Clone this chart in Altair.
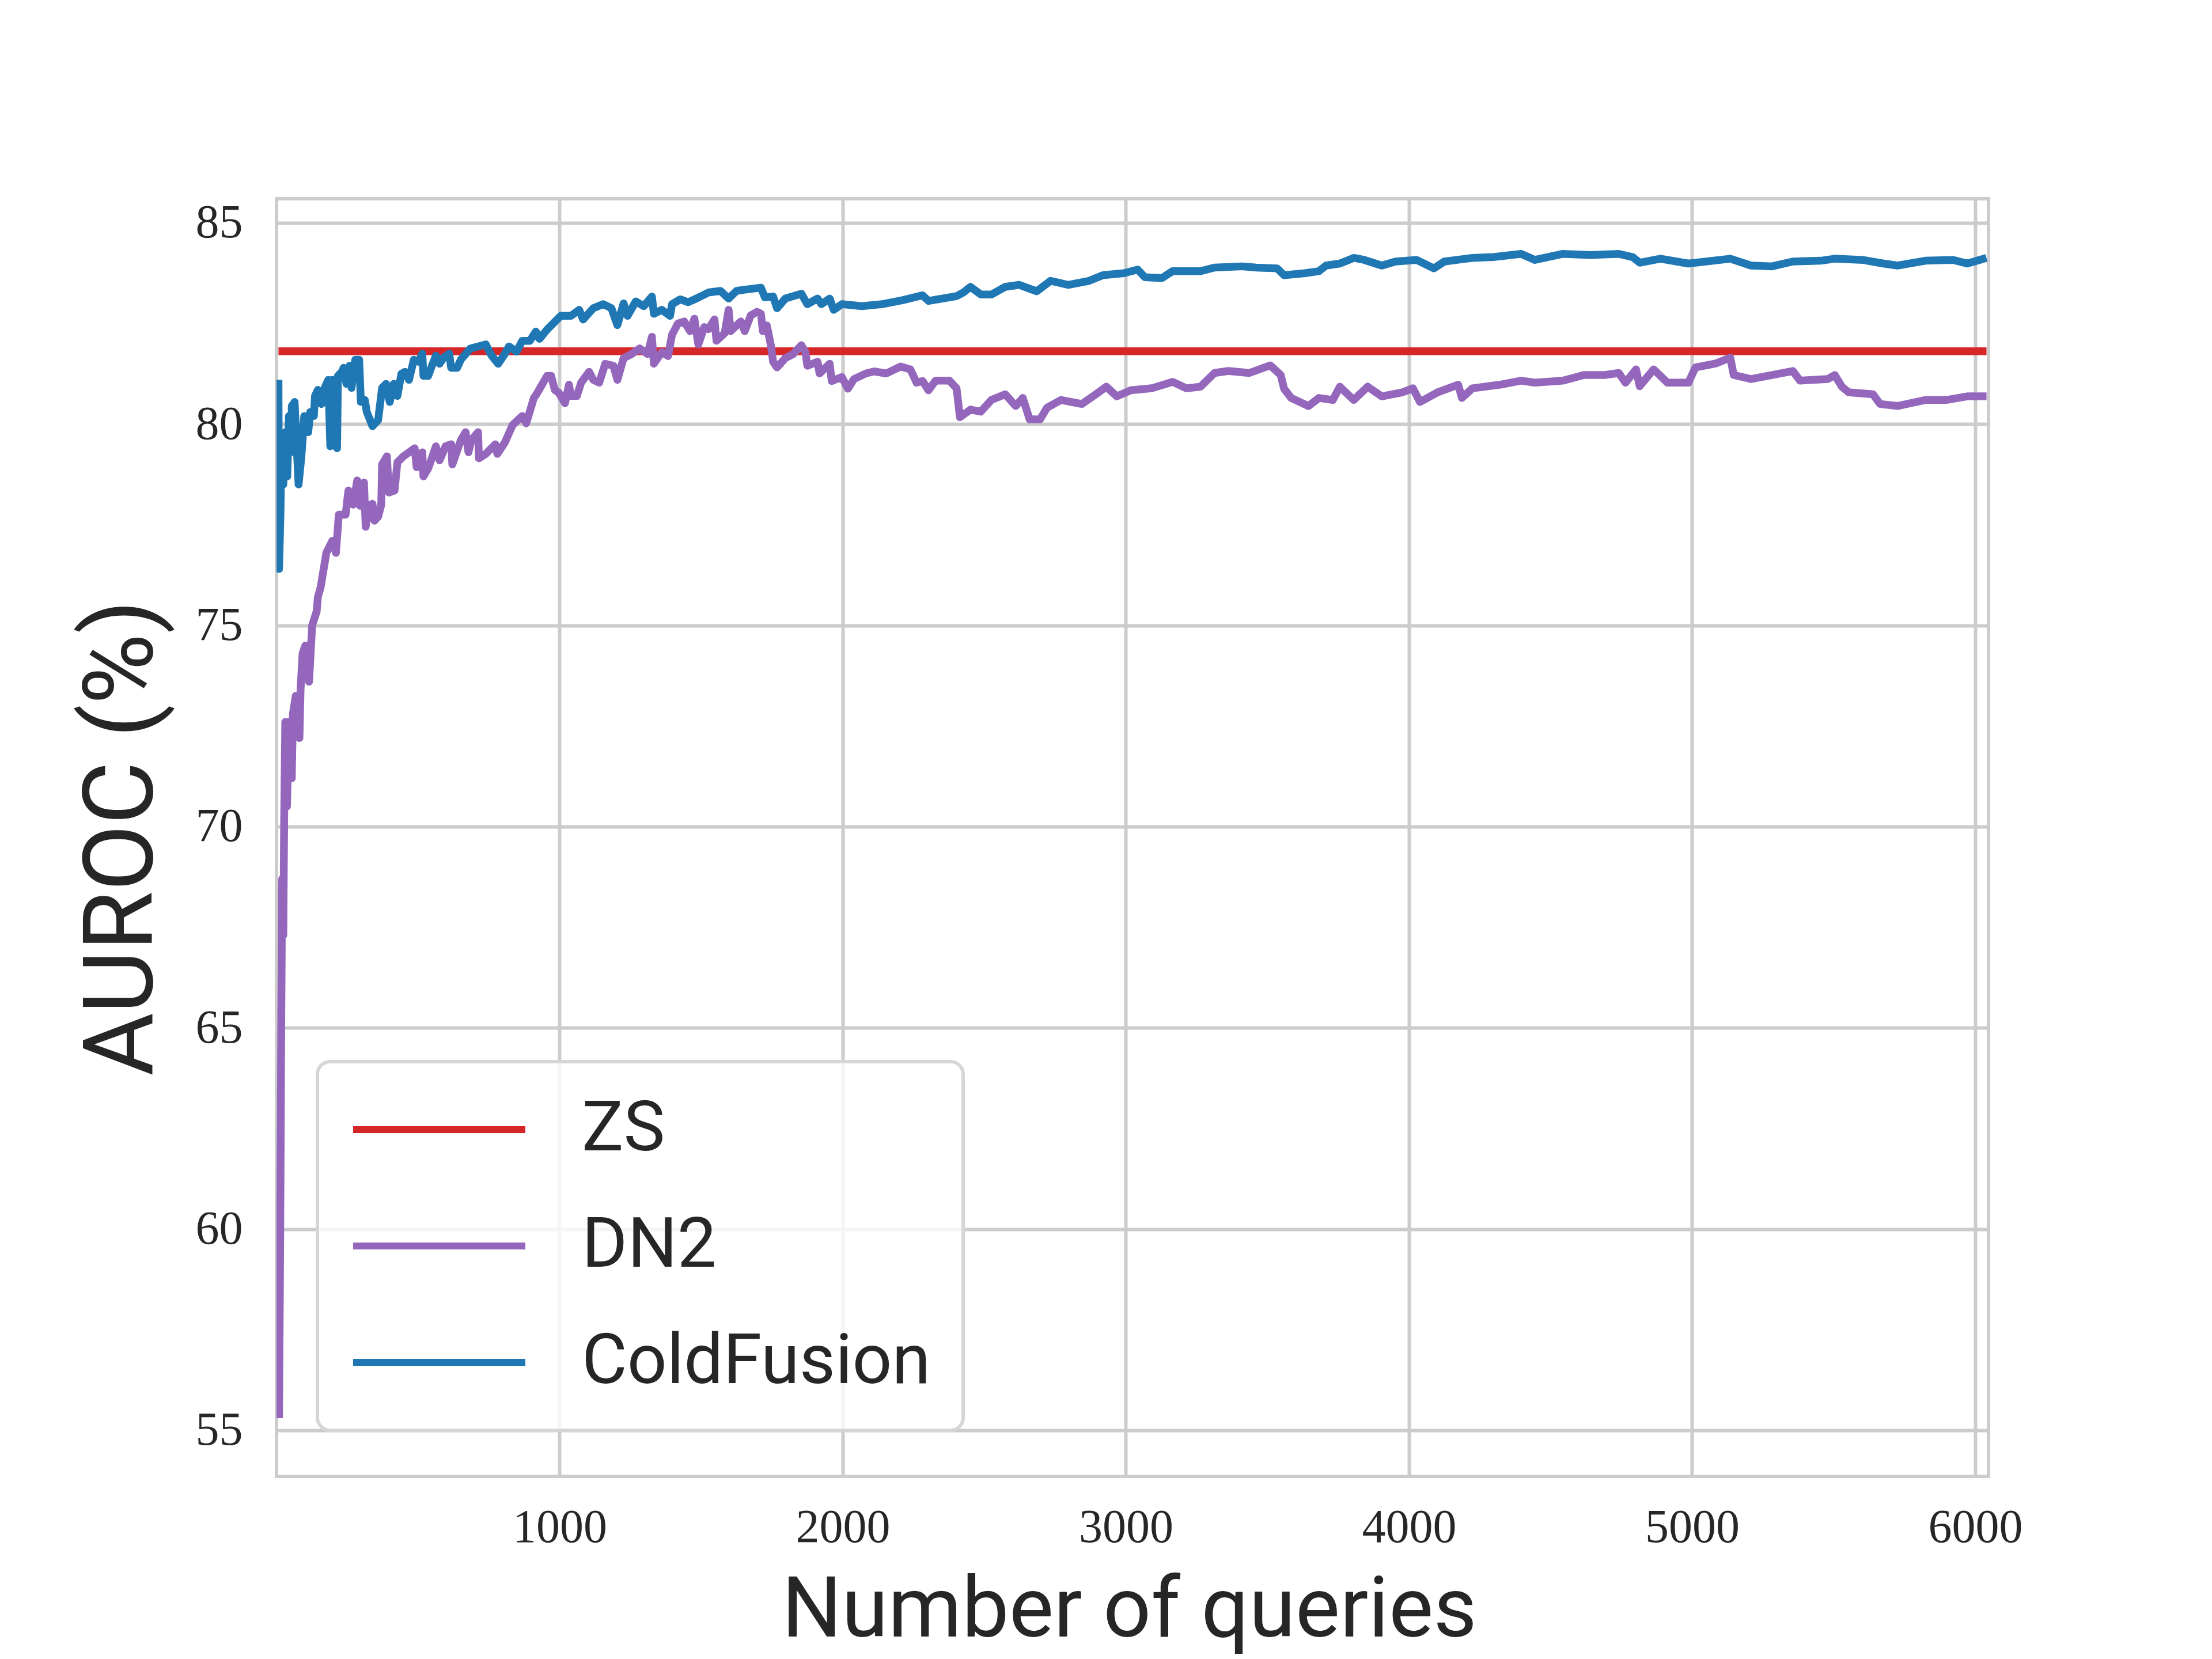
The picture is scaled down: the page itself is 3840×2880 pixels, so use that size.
import altair as alt
import pandas as pd

# ---- data ----
series_names = ["ZS", "DN2", "ColdFusion"]
series_colors = ["#d62728", "#9467bd", "#1f77b4"]

zs_q = [7, 6040]
zs_v = [81.81, 81.81]

dn2_q = [9, 13, 17, 20, 24, 27, 31, 37, 44, 54, 58, 68, 81, 85, 92, 102, 115, 126, 142, 146,
         156, 176, 197, 210, 220, 244, 254, 271, 285, 295, 309, 315, 326, 339, 346, 359, 370, 373, 390, 397,
         417, 427, 448, 468, 488, 495, 515, 519, 536, 563, 576, 597, 617, 621, 651, 668, 678, 688, 712, 715,
         739, 773, 780, 807, 834, 868, 882, 909, 919, 956, 970, 983, 997, 1019, 1033, 1040, 1061, 1076, 1104, 1119,
         1140, 1161, 1190, 1204, 1226, 1254, 1283, 1311, 1326, 1333, 1361, 1383, 1397, 1418, 1440, 1461, 1476, 1490, 1511, 1526,
         1547, 1554, 1583, 1597, 1604, 1640, 1654, 1675, 1697, 1711, 1718, 1732, 1747, 1754, 1768, 1797, 1825, 1854, 1868, 1875,
         1911, 1918, 1954, 1961, 1997, 2018, 2040, 2082, 2111, 2154, 2204, 2239, 2261, 2282,
         2303, 2328, 2377, 2402, 2414, 2451, 2488, 2525, 2574, 2611, 2636, 2660, 2697, 2722, 2771, 2845, 2894, 2931, 2968, 3017,
         3091, 3165, 3214, 3264, 3313, 3362, 3436, 3510, 3547, 3559, 3584, 3645, 3682, 3731, 3756, 3805, 3854, 3904, 3977, 4014,
         4039, 4101, 4174, 4187, 4224, 4322, 4396, 4445, 4544, 4618, 4691, 4741, 4765, 4802, 4815, 4864, 4913, 4987, 5012, 5085,
         5135, 5147, 5208, 5282, 5356, 5381, 5479, 5504, 5529, 5553, 5639, 5664, 5726, 5824, 5898, 5972, 6040]
dn2_v = [55.3, 59.7, 65.4, 68.7, 67.3, 70.1, 72.6, 70.5, 72.6, 71.2, 72.8, 73.25, 72.2, 73.4, 74.3, 74.5, 73.6, 75.0, 75.35, 75.7,
         75.95, 76.8, 77.1, 76.8, 77.75, 77.75, 78.35, 78.0, 78.6, 77.97, 78.55, 77.45, 77.97, 78.02, 77.6, 77.7, 78.0, 79.0, 79.2, 78.3,
         78.35, 79.05, 79.2, 79.3, 79.4, 78.93, 79.3, 78.7, 78.9, 79.45, 79.1, 79.45, 79.5, 79.0, 79.6, 79.8, 79.3, 79.6, 79.8, 79.15,
         79.26, 79.5, 79.26, 79.55, 79.98, 80.2, 80.02, 80.65, 80.75, 81.2, 81.2, 80.85, 80.78, 80.52, 80.98, 80.7, 80.7, 81.03, 81.3, 81.1,
         81.03, 81.5, 81.45, 81.1, 81.64, 81.74, 81.88, 81.74, 82.17, 81.5, 81.79, 81.69, 82.22, 82.5, 82.55, 82.31, 82.62, 81.98, 82.41, 82.36,
         82.6, 82.07, 82.26, 82.84, 82.31, 82.55, 82.31, 82.7, 82.79, 82.74, 82.31, 82.45, 81.93, 81.55, 81.41, 81.64, 81.74, 81.96, 81.79, 81.45,
         81.55, 81.26, 81.5, 81.07, 81.17, 80.88, 81.12, 81.26, 81.31, 81.26, 81.43, 81.36, 81.03, 81.07,
         80.84, 81.08, 81.08, 80.89, 80.17, 80.36, 80.31, 80.6, 80.74, 80.45, 80.65, 80.12, 80.12, 80.41, 80.6, 80.5, 80.74, 80.93, 80.69, 80.84,
         80.89, 81.05, 80.89, 80.93, 81.27, 81.32, 81.27, 81.46, 81.22, 80.88, 80.65, 80.45, 80.65, 80.6, 80.93, 80.6, 80.93, 80.69, 80.79, 80.89,
         80.55, 80.79, 80.98, 80.65, 80.89, 80.98, 81.08, 81.03, 81.08, 81.22, 81.22, 81.27, 81.03, 81.36, 80.94, 81.36, 81.03, 81.03, 81.41, 81.51,
         81.65, 81.22, 81.12, 81.22, 81.32, 81.08, 81.12, 81.22, 80.93, 80.79, 80.74, 80.5, 80.45, 80.6, 80.6, 80.69, 80.69]

cf_q = [7, 9, 14, 18, 24, 31, 38, 44, 51, 54, 64, 71, 78, 88, 98, 112, 119, 132, 136, 146,
        159, 170, 183, 190, 197, 203, 214, 217, 231, 237, 247, 258, 265, 278, 292, 298, 312, 319, 339, 359,
        373, 387, 400, 414, 427, 441, 454, 468, 485, 502, 515, 519, 536, 549, 563, 576, 590, 610, 617, 638,
        651, 685, 712, 739, 760, 783, 807, 821, 848, 868, 895, 916, 929, 956, 1004,
        1040, 1069, 1083, 1119, 1154, 1183, 1204, 1226, 1240, 1269, 1297, 1326, 1333, 1361, 1390, 1397, 1426, 1454, 1483, 1526,
        1568, 1597, 1625, 1654, 1711, 1725, 1754, 1768, 1797, 1854, 1875, 1911, 1925, 1954, 1968, 1997, 2068, 2139, 2211, 2282,
        2303, 2402, 2426, 2451, 2488, 2525, 2574, 2623, 2685, 2734, 2796, 2870, 2919, 2993, 3042, 3067, 3128, 3165, 3264, 3313,
        3411, 3460, 3534, 3559, 3633, 3682, 3707, 3756, 3805, 3842, 3904, 3953, 4027, 4088, 4125, 4224, 4298, 4396, 4445, 4544,
        4642, 4741, 4790, 4815, 4888, 4987, 5135, 5208, 5282, 5356, 5455, 5504, 5602, 5676, 5726, 5824, 5922, 5972, 6040]
cf_v = [81.1, 76.4, 77.8, 79.5, 78.5, 79.8, 78.7, 80.2, 79.3, 80.45, 80.55, 79.5, 78.5, 79.2, 80.2, 79.8, 80.3, 80.2, 80.7, 80.85,
        80.5, 80.9, 81.1, 79.45, 81.1, 79.5, 79.4, 81.2, 81.3, 81.4, 81.0, 81.45, 80.9, 81.6, 81.6, 80.55, 80.6, 80.3, 79.95, 80.1,
        80.9, 81.0, 80.55, 81.0, 80.7, 81.25, 81.3, 81.1, 81.6, 81.55, 81.75, 81.2, 81.2, 81.45, 81.7, 81.5, 81.65, 81.75, 81.4, 81.4,
        81.6, 81.88, 81.93, 81.98, 81.7, 81.5, 81.75, 81.93, 81.8, 82.07, 82.07, 82.3, 82.12, 82.35, 82.69,
        82.69, 82.84, 82.6, 82.88, 82.98, 82.88, 82.46, 83.0, 82.69, 83.05, 82.93, 83.17, 82.74, 82.84, 82.69, 82.98, 83.1, 83.03, 83.12, 83.27,
        83.31, 83.12, 83.31, 83.34, 83.39, 83.15, 83.17, 82.88, 83.12, 83.24, 82.98, 83.12, 82.98, 83.12, 82.84, 82.98, 82.93, 82.98, 83.08, 83.2,
        83.06, 83.18, 83.27, 83.41, 83.22, 83.22, 83.41, 83.46, 83.3, 83.56, 83.46, 83.56, 83.7, 83.75, 83.84, 83.65, 83.63, 83.8, 83.8, 83.89,
        83.92, 83.89, 83.87, 83.7, 83.75, 83.8, 83.94, 83.99, 84.13, 84.08, 83.94, 84.04, 84.08, 83.87, 84.04, 84.13, 84.15, 84.23, 84.08, 84.23,
        84.2, 84.23, 84.15, 84.01, 84.11, 83.99, 84.11, 83.94, 83.92, 84.04, 84.06, 84.11, 84.08, 83.99, 83.94, 84.06, 84.08, 83.99, 84.13]

x_ticks = [1000, 2000, 3000, 4000, 5000, 6000]
y_ticks = [55, 60, 65, 70, 75, 80, 85]

# ---- tables ----
frames = []
for name, qs, vs in [("ZS", zs_q, zs_v), ("DN2", dn2_q, dn2_v), ("ColdFusion", cf_q, cf_v)]:
    frames.append(pd.DataFrame({"q": qs, "auroc": vs, "method": name, "order": range(len(qs))}))
df = pd.concat(frames, ignore_index=True)

W, H = 2972, 2218

color = alt.Color(
    "method:N",
    scale=alt.Scale(domain=series_names, range=series_colors),
    legend=alt.Legend(
        title=None,
        orient="none",
        legendX=71,
        legendY=1498,
        symbolType="stroke",
        symbolSize=299 * 299,
        symbolStrokeWidth=12,
        clipHeight=124,
        rowPadding=78,
        labelOffset=92,
        labelFont="Roboto",
        labelFontSize=121,
        labelColor="#262626",
        padding=56,
        cornerRadius=22,
        strokeColor="#d6d6d6",
        fillColor="rgba(255,255,255,0.8)",
        labelLimit=2000,
    ),
)

x = alt.X(
    "q:Q",
    scale=alt.Scale(domain=[0, 6047], nice=False, zero=False),
    axis=alt.Axis(
        values=x_ticks,
        format="d",
        title="Number of queries",
        titleFont="Roboto",
        titleFontSize=146,
        titleFontWeight="normal",
        titleColor="#262626",
        titleX=1480,
        titleY=277,
        titleBaseline="alphabetic",
        titleAlign="center",
        labelFont="Liberation Serif",
        labelFontSize=82,
        labelColor="#262626",
        labelPadding=48,
        labelFlush=False,
        labelOverlap=False,
        ticks=False,
        tickSize=0,
        domain=False,
        grid=True,
        gridColor="#cccccc",
        gridWidth=6,
    ),
)

y = alt.Y(
    "auroc:Q",
    scale=alt.Scale(domain=[53.855, 85.6], nice=False, zero=False),
    axis=alt.Axis(
        values=y_ticks,
        format="d",
        title="AUROC (%)",
        titleFont="Roboto",
        titleFontSize=168,
        titleFontWeight="normal",
        titleColor="#262626",
        titleAngle=270,
        titleX=-217,
        titleY=H / 2,
        titleBaseline="alphabetic",
        titleAlign="center",
        labelFont="Liberation Serif",
        labelFontSize=82,
        labelColor="#262626",
        labelPadding=59,
        labelFlush=False,
        labelOverlap=False,
        ticks=False,
        tickSize=0,
        domain=False,
        grid=True,
        gridColor="#cccccc",
        gridWidth=6,
    ),
)

layers = []
for name in series_names:
    layers.append(
        alt.Chart(df)
        .transform_filter(alt.datum.method == name)
        .mark_line(strokeWidth=13.5, strokeJoin="round", strokeCap="butt", clip=True)
        .encode(x=x, y=y, color=color, order="order:Q")
    )

chart = (
    alt.layer(*layers)
    .properties(
        width=W,
        height=H,
        autosize=alt.AutoSizeParams(type="none"),
        padding={"left": 472, "top": 337, "right": 380, "bottom": 313},
        background="white",
    )
    .configure_view(stroke="#cccccc", strokeWidth=6)
    .configure_legend(strokeWidth=6)
)

chart.save("out.html", embed_options={"renderer": "svg", "actions": False})
